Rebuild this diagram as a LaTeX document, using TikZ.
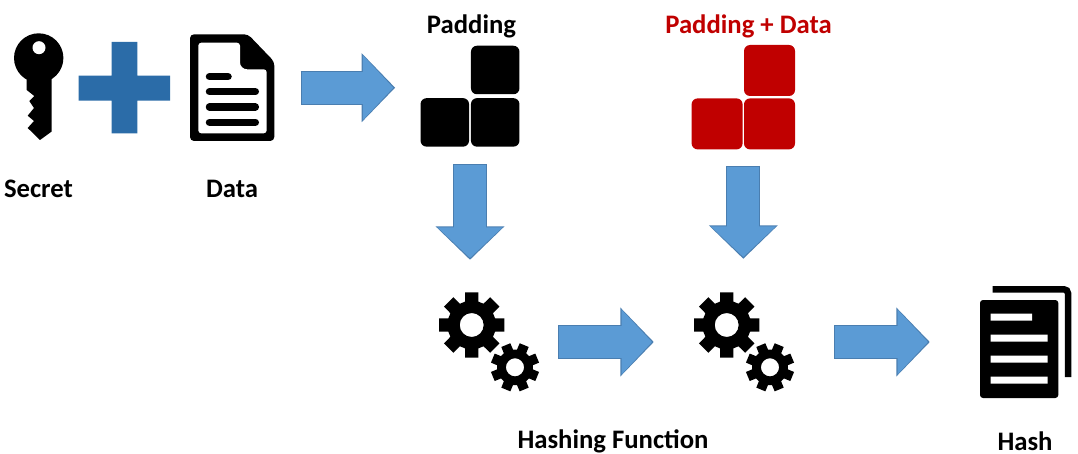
\documentclass[tikz,border=0pt]{standalone}
\usepackage{fontspec}
\setmainfont{Carlito}
\usepackage{xcolor}
\usetikzlibrary{arrows.meta,positioning,fit}
\definecolor{arrowfill}{HTML}{5B9BD5}
\definecolor{arrowline}{HTML}{4A7EB0}
\definecolor{plusblue}{HTML}{2B6CA8}
\definecolor{padred}{HTML}{C00000}
\definecolor{inkblack}{HTML}{000000}
\tikzset{
  textlabel/.style={anchor=base, inner sep=0pt, text=inkblack, font=\bfseries\fontsize{26.7}{27}\selectfont},
  iconbox/.style={inner sep=0pt, minimum width=#1},
  padblock/.style={fill=inkblack, rounded corners=6pt, minimum size=48.5pt, inner sep=0pt},
  padgroup/.style={inner sep=0pt},
  blockedge/.style 2 args={draw=arrowline, line width=34pt,
    shorten <=#1pt, shorten >=#2pt, -{Triangle[length=33.5pt,width=67pt]},
    postaction={draw=arrowfill, line width=32pt,
      shorten <=#1pt+1pt, shorten >=#2pt+1.8pt, -{Triangle[length=30.5pt,width=63pt]}}},
}
\newcommand{\GearShape}[6]{%
  % centre x, centre y, outer radius, root ratio, hole ratio, turn
  \fill[inkblack, even odd rule, shift={(#1,#2)}, x=#3pt, y=-#3pt, rotate=#6]
    (-16:#4) \foreach \a in {0,45,...,315}{
      -- (\a-16:#4) -- (\a-11.5:1) -- (\a+11.5:1) -- (\a+16:#4)} -- cycle
    (0,0) circle (#5);
}
\begin{document}
\begin{tikzpicture}[x=1pt,y=-1pt]
  \useasboundingbox (0,0) rectangle (1078,454);

  % key
  \node[iconbox=50pt, minimum height=107pt] (keyicon) at (38.7,86.5) {};
  \fill[inkblack] (38.7,58) circle (24.7);
  \fill[inkblack] (26.7,70) -- (51.7,70) -- (51.7,131.5) -- (40,140) -- (27.7,128)
    -- (34,121) -- (27.7,115.7) -- (34,108) -- (29.3,101) -- (34.3,96) -- (26.7,90) -- cycle;
  \fill[white] (39,47.7) circle (6.5);
  % plus
  \node[iconbox=91pt, minimum height=91pt] (plusicon) at (124.5,88) {};
  \fill[plusblue] (111.7,42) rectangle (137.3,133.5) (78.7,75.7) rectangle (170,100.7);
  % document
  \node[iconbox=84.3pt, minimum height=106.7pt] (docicon) at (232.2,87.7) {};
  \fill[inkblack, rounded corners=4pt] (190,34.3) -- (248,34.3) -- (274.3,61.7)
    -- (274.3,141) -- (190,141) -- cycle;
  \fill[white, rounded corners=3pt] (198.3,42.7) -- (240,42.7) [rounded corners=7pt] -- (240,69.3)
    [rounded corners=3pt] -- (266.7,69.3) -- (266.7,133.3) -- (198.3,133.3) -- cycle;
  \draw[inkblack, line width=7.5pt, line cap=round] (209.5,76.7) -- (228,76.7)
    (209.5,91.7) -- (255.3,91.7) (209.5,107) -- (255.3,107) (209.5,122.3) -- (255.3,122.3);

  \node[textlabel] (secretlabel) at (38.5,198) {Secret};
  \node[textlabel] (datalabel) at (232,198) {Data};

  % padding blocks
  \node[padblock] (pb1) at (495.2,70) {};
  \node[padblock, below=3.5pt of pb1] (pb2) {};
  \node[padblock, left=1.5pt of pb2] (pb3) {};
  \node[padgroup, fit=(pb1)(pb3)] (padding) {};
  \node[textlabel] (paddinglabel) at (471.5,34) {Padding};

  \node[padblock, fill=padred, minimum size=51pt] (rb1) at (769.5,70.5) {};
  \node[padblock, fill=padred, minimum size=51pt, below=2pt of rb1] (rb2) {};
  \node[padblock, fill=padred, minimum size=51pt, left=1pt of rb2] (rb3) {};
  \node[padgroup, fit=(rb1)(rb3)] (paddata) {};
  \node[textlabel, text=padred] (paddatalabel) at (748.5,34) {Padding + Data};

  % gears
  \node[iconbox=101pt, minimum height=100pt] (gearsa) at (489.5,342) {};
  \GearShape{471.7}{325}{33.3}{.73}{.36}{0}
  \GearShape{515}{367.3}{24.5}{.73}{.37}{22.5}
  \node[iconbox=101pt, minimum height=100pt] (gearsb) at (743.5,342) {};
  \GearShape{726.7}{325}{33.3}{.73}{.36}{0}
  \GearShape{770}{367.3}{24.5}{.73}{.37}{22.5}
  \node[textlabel] (hashinglabel) at (613,448) {Hashing Function};

  % hash pages
  \node[iconbox=91pt, minimum height=112pt] (hashicon) at (1025.5,342) {};
  \draw[inkblack, line width=6.5pt, rounded corners=4pt] (992.5,289.3) -- (1068,289.3) -- (1068,377);
  \fill[inkblack, rounded corners=3pt] (980,300) rectangle (1058.3,398);
  \fill[white] (990.7,313.7) rectangle (1032,320.7) (990.7,334.7) rectangle (1047.7,341.7)
    (990.7,355.7) rectangle (1047.7,362.7) (990.7,376.7) rectangle (1047.7,383.7);
  \node[textlabel] (hashlabel) at (1025,450) {Hash};

  % flow
  \draw[blockedge={26}{25}] (docicon.east) -- (docicon.east -| padding.west);
  \draw[blockedge={17}{32}] (padding.south) -- (padding.south |- gearsa.north);
  \draw[blockedge={16}{33}] (paddata.south) -- (paddata.south |- gearsb.north);
  \draw[blockedge={18}{39}] (gearsa.east) -- (gearsb.west);
  \draw[blockedge={40}{50}] (gearsb.east) -- (hashicon.west);
\end{tikzpicture}
\end{document}
